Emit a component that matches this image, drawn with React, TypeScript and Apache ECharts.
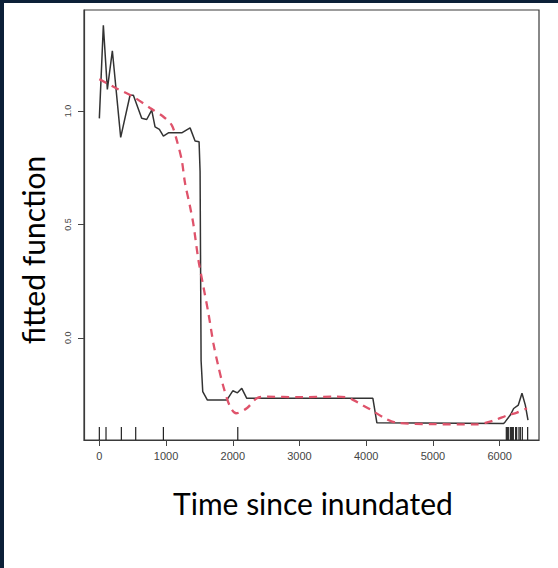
import React, { useEffect, useRef } from "react";
import * as echarts from "echarts";

const xTicks = [0, 1000, 2000, 3000, 4000, 5000, 6000];
const yTicks = [0, 0.5, 1.0];

const fitX = [0, 60, 120, 195, 320, 460, 510, 635, 710, 785, 835, 900, 960, 1035, 1235, 1360, 1435, 1495, 1510, 1525, 1550, 1620, 1910, 2000, 2070, 2135, 2210, 4100, 4160, 6060, 6085, 6160, 6210, 6280, 6335, 6385, 6425];
const fitY = [0.968, 1.379, 1.096, 1.266, 0.884, 1.07, 1.07, 0.968, 0.963, 1.004, 0.93, 0.919, 0.89, 0.904, 0.904, 0.926, 0.868, 0.865, 0.732, -0.1, -0.238, -0.275, -0.275, -0.234, -0.243, -0.223, -0.267, -0.267, -0.375, -0.378, -0.37, -0.341, -0.312, -0.297, -0.245, -0.297, -0.363];

const smoothX = [0, 260, 510, 760, 960, 1085, 1160, 1235, 1285, 1360, 1410, 1485, 1560, 1635, 1710, 1785, 1860, 1960, 2050, 2210, 2360, 2500, 3000, 3500, 3700, 3810, 3900, 4060, 4285, 4460, 5010, 5660, 5910, 6110, 6260, 6410];
const smoothY = [1.141, 1.1, 1.063, 1.014, 0.975, 0.938, 0.872, 0.784, 0.681, 0.578, 0.5, 0.343, 0.225, 0.108, -0.025, -0.128, -0.216, -0.304, -0.333, -0.311, -0.267, -0.26, -0.262, -0.26, -0.262, -0.275, -0.29, -0.316, -0.356, -0.375, -0.381, -0.382, -0.365, -0.343, -0.33, -0.311];

const rugX = [0, 100, 330, 545, 960, 2075, 6100, 6115, 6130, 6160, 6175, 6190, 6205, 6240, 6255, 6290, 6310, 6340, 6420];

const X_MIN = -230;
const X_MAX = 6590;
const Y_MIN = -0.451;
const Y_MAX = 1.446;

export default function App() {
  const ref = useRef<HTMLDivElement>(null);
  useEffect(() => {
    if (!ref.current) return;
    const chart = echarts.init(ref.current, null, { renderer: "svg" });
    const tickColor = "#444";
    const boxColor = "#3a3a3a";
    chart.setOption({
      animation: false,
      backgroundColor: "#ffffff",
      grid: {
        left: 84,
        top: 10,
        width: 455,
        height: 430,
        show: true,
        borderColor: boxColor,
        borderWidth: 1.2,
        backgroundColor: "transparent",
      },
      xAxis: {
        type: "value",
        min: X_MIN,
        max: X_MAX,
        axisLine: { show: true, onZero: false, lineStyle: { color: boxColor, width: 1.2 } },
        splitLine: { show: false },
        axisTick: {
          show: true,
          length: 6,
          customValues: xTicks,
          lineStyle: { color: tickColor, width: 1 },
        },
        axisLabel: {
          customValues: xTicks,
          margin: 10,
          fontSize: 11,
          color: tickColor,
          fontFamily: "Liberation Sans",
          formatter: (v: number) => String(v),
        },
      },
      yAxis: {
        type: "value",
        min: Y_MIN,
        max: Y_MAX,
        axisLine: { show: true, onZero: false, lineStyle: { color: boxColor, width: 1.2 } },
        splitLine: { show: false },
        axisTick: {
          show: true,
          length: 6,
          customValues: yTicks,
          lineStyle: { color: tickColor, width: 1 },
        },
        axisLabel: {
          customValues: yTicks,
          rotate: 90,
          margin: 12,
          fontSize: 9,
          color: tickColor,
          fontFamily: "Liberation Sans",
          formatter: (v: number) => v.toFixed(1),
        },
      },
      graphic: [
        { type: "rect", shape: { x: 0, y: 0, width: 558, height: 3 }, style: { fill: "#0c2038" } },
        { type: "rect", shape: { x: 0, y: 0, width: 4, height: 568 }, style: { fill: "#0c2038" } },
        {
          type: "text",
          x: 33,
          y: 250,
          rotation: Math.PI / 2,
          style: {
            text: "fitted function",
            font: "30px Lato",
            fill: "#000",
            align: "center",
            verticalAlign: "middle",
          },
        },
        {
          type: "text",
          x: 313,
          y: 503,
          style: {
            text: "Time since inundated",
            font: "30px Lato",
            fill: "#000",
            align: "center",
            verticalAlign: "middle",
          },
        },
      ],
      series: [
        {
          type: "line",
          data: fitX.map((x, i) => [x, fitY[i]]),
          symbol: "none",
          lineStyle: { color: "#333", width: 1.5 },
          z: 3,
        },
        {
          type: "line",
          data: smoothX.map((x, i) => [x, smoothY[i]]),
          symbol: "none",
          smooth: 0.3,
          lineStyle: { color: "#DF536B", width: 2.3, type: [8, 6] },
          z: 4,
        },
        {
          type: "custom",
          data: rugX.map((x) => [x, Y_MIN]),
          renderItem: (params: any, api: any) => {
            const p = api.coord([api.value(0), Y_MIN]);
            return {
              type: "line",
              shape: { x1: p[0], y1: p[1], x2: p[0], y2: p[1] - 13 },
              style: { stroke: "#222", lineWidth: 1.2 },
            };
          },
          z: 5,
        },
      ],
    });
    return () => chart.dispose();
  }, []);
  return (
    <div
      ref={ref}
      style={{ position: "fixed", left: 0, top: 0, width: 558, height: 568, background: "#fff" }}
    />
  );
}
